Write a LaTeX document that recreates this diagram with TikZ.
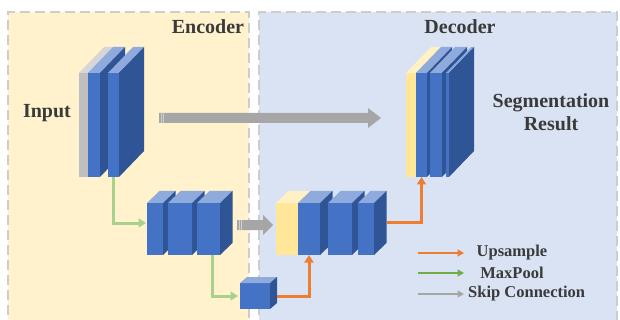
\documentclass[tikz,border=0pt]{standalone}
\usepackage{fontspec}
\setmainfont{Liberation Serif}
\usetikzlibrary{arrows.meta,calc}

\definecolor{encbg}{HTML}{FFF2CC}
\definecolor{decbg}{HTML}{DAE3F3}
\definecolor{panelline}{HTML}{CDCDCD}
\definecolor{blueF}{HTML}{4472C4}
\definecolor{blueT}{HTML}{8FAADC}
\definecolor{blueS}{HTML}{2F5597}
\definecolor{yelF}{HTML}{FFE699}
\definecolor{yelT}{HTML}{FFF1C4}
\definecolor{yelS}{HTML}{F2D680}
\definecolor{gryF}{HTML}{BFBFBF}
\definecolor{gryT}{HTML}{D6D6D6}
\definecolor{gryS}{HTML}{A6A6A6}
\definecolor{txt}{HTML}{3A3A3A}
\definecolor{upcol}{HTML}{ED7D31}
\definecolor{poolcol}{HTML}{A9D18E}
\definecolor{poolkey}{HTML}{70AD47}
\definecolor{skipcol}{HTML}{A6A6A6}

% a feature-map slab: name, front x1,y1,x2,y2, depth dx,dy, colour set
\newcommand\slab[8]{%
  \node[inner sep=0pt, outer sep=0pt, anchor=north west, fill=#8F,
        minimum width={(#4-#2)*1pt}, minimum height={(#5-#3)*1pt}] (#1) at (#2,#3) {};
  \fill[#8T] (#1.north west) -- (#1.north east) -- ++(#6,#7)
            -- ($(#1.north west)+(#6,#7)$) -- cycle;
  \fill[#8S] (#1.north east) -- ++(#6,#7) -- ($(#1.south east)+(#6,#7)$)
            -- (#1.south east) -- cycle;
}

% broad skip-connection arrow: start, tip, head length
\newcommand\skiparrow[3]{%
  \fill[skipcol] ($(#1)+(0,-5)$) -- ($(#2)+(-#3,-5)$) -- ($(#2)+(-#3,-10)$) -- (#2)
     -- ($(#2)+(-#3,10)$) -- ($(#2)+(-#3,5)$) -- ($(#1)+(0,5)$) -- cycle;
  \draw[white, opacity=.45, line width=.8pt]
     ($(#1)+(2,-5)$) -- ($(#1)+(2,5)$) ($(#1)+(4.5,-5)$) -- ($(#1)+(4.5,5)$);
}

\tikzset{
  panel/.style={draw=panelline, line width=1.6pt, dash pattern=on 10pt off 5pt},
  title/.style={font=\fontsize{20}{24}\selectfont\bfseries, text=txt, inner sep=0pt, align=center},
  keytext/.style={font=\fontsize{16.5}{19}\selectfont\bfseries, text=txt, inner sep=0pt},
  upconn/.style={draw=upcol, line width=3pt, -{Triangle[length=7.5pt,width=9pt]}},
  poolconn/.style={draw=poolcol, line width=3pt, -{Triangle[length=7.5pt,width=9pt]}},
  upkey/.style={draw=upcol, line width=2pt, -{Triangle[length=6.5pt,width=7pt]}},
  poolkey/.style={draw=poolkey, line width=2pt, -{Triangle[length=6.5pt,width=7pt]}},
  skipkey/.style={draw=skipcol, line width=2pt, -{Triangle[length=6.5pt,width=7pt]}},
}

\begin{document}
\begin{tikzpicture}[x=1pt, y=-1pt]
\useasboundingbox (0,0) rectangle (620,320);
\clip (0,0) rectangle (620,320);

% encoder and decoder panels
\fill[encbg] (8,12) rectangle (249,330);
\fill[decbg] (259,12) rectangle (617,330);
\draw[panel] (8,330) -- (8,12) -- (249,12) -- (249,330);
\draw[panel] (259,330) -- (259,12) -- (617,12) -- (617,330);

\node[title] (enc) at (208,27) {Encoder};
\node[title] (dec) at (460,27) {Decoder};
\node[title] (inp) at (47,113) {Input};
\node[title] (seg) at (551,112) {Segmentation\\[-1pt]Result};

% input stack
\slab{inG}{79}{73}{89}{177}{25}{-26}{gry}
\slab{inA}{88}{73}{100}{177}{25}{-26}{blue}
\slab{inB}{108}{73}{119}{177}{25}{-26}{blue}

% encoder second level
\slab{e1}{147}{203}{163}{255}{12.5}{-12}{blue}
\slab{e2}{168}{203}{192}{255}{12.5}{-12}{blue}
\slab{e3}{197}{203}{220}{255}{12.5}{-12}{blue}

% bottleneck
\slab{cube}{240}{283}{270}{309}{7}{-6}{blue}

% decoder second level
\slab{dY}{276}{203}{298}{255}{12.5}{-12}{yel}
\slab{dA}{298}{203}{320}{255}{12.5}{-12}{blue}
\slab{dB}{328}{203}{352}{255}{12.5}{-12}{blue}
\slab{dC}{358}{203}{374}{255}{12.5}{-12}{blue}

% output stack
\slab{tY}{406}{73}{416}{177}{25}{-26}{yel}
\slab{t1}{416}{73}{427}{177}{25}{-26}{blue}
\slab{t2}{430}{73}{442}{177}{25}{-26}{blue}
\slab{t3}{446}{73}{449}{177}{25}{-26}{blue}

% skip connections
\coordinate (sk1s) at (159,118);
\coordinate (sk1e) at (381,118);
\skiparrow{sk1s}{sk1e}{13}
\coordinate (sk2s) at (237,225);
\coordinate (sk2e) at (273,225);
\skiparrow{sk2s}{sk2e}{10}

% max-pooling and up-sampling paths
\draw[poolconn] (inB.south) |- ($(e1.west)+(-1,-6)$);
\draw[poolconn] ([xshift=3.5pt]e3.south) |- ($(cube.west)+(-2,0)$);
\draw[upconn] ($(cube.east)+(7,0)$) -| (dA.south);
\draw[upconn] ($(dC.east)+(12.5,-7)$) -| (t1.south);

% legend
\coordinate (ku1) at (418,253); \coordinate (ku2) at (464,253);
\coordinate (kp1) at (418,273); \coordinate (kp2) at (464,273);
\coordinate (ks1) at (418,294); \coordinate (ks2) at (464,294);
\draw[upkey] (ku1) -- (ku2);
\draw[poolkey] (kp1) -- (kp2);
\draw[skipkey] (ks1) -- (ks2);
\node[keytext] (kup) at (512,253) {Upsample};
\node[keytext] (kpool) at (512,273) {MaxPool};
\node[keytext, anchor=west] (kskip) at (468,294) {Skip Connection};
\end{tikzpicture}
\end{document}
